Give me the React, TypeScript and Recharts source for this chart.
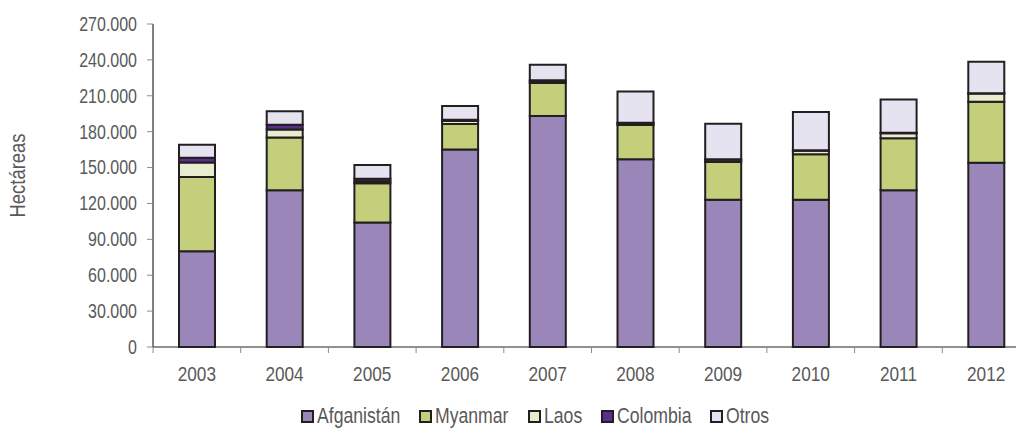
import React from 'react';
import { BarChart, Bar, XAxis, YAxis, Legend, Label } from 'recharts';

const years = ['2003', '2004', '2005', '2006', '2007', '2008', '2009', '2010', '2011', '2012'];
const afganistan = [80000, 131000, 104000, 165000, 193000, 157000, 123000, 123000, 131000, 154000];
const myanmar = [62200, 44200, 32800, 21500, 27700, 28500, 31700, 38100, 43600, 51000];
const laos = [12000, 6600, 1800, 2500, 1500, 1600, 1900, 3000, 4100, 6800];
const colombia = [4000, 3950, 1950, 1000, 700, 400, 360, 340, 340, 310];
const otros = [10800, 11300, 11500, 11500, 13000, 26000, 29600, 32000, 27800, 26400];
const yTicks = [0, 30000, 60000, 90000, 120000, 150000, 180000, 210000, 240000, 270000];

const series = [
  { key: 'Afganistán', values: afganistan, color: '#9a86b9' },
  { key: 'Myanmar', values: myanmar, color: '#c3cf7b' },
  { key: 'Laos', values: laos, color: '#e9edcf' },
  { key: 'Colombia', values: colombia, color: '#5b2d8e' },
  { key: 'Otros', values: otros, color: '#e5e3f0' },
];

const data = years.map((y, i) => {
  const row: Record<string, string | number> = { year: y };
  series.forEach((s) => {
    row[s.key] = s.values[i];
  });
  return row;
});

const FONT = '"Liberation Sans", Arial, sans-serif';
const SX = 0.82;
const TEXT = '#595959';
const STROKE = '#231f20';
const CHART_W = 1040;
const CHART_H = 428;
const MARGIN = { top: 24, right: 10, left: 0, bottom: 0 };
const Y_W = 153;
const HALF_BAND = (CHART_W - MARGIN.left - MARGIN.right - Y_W) / years.length / 2;
const LEGEND_FS = 21.5;

const fmt = (v: number) => String(v).replace(/\B(?=(\d{3})+(?!\d))/g, '.');

let ctx: CanvasRenderingContext2D | null = null;
const measure = (s: string, size: number) => {
  if (!ctx && typeof document !== 'undefined') {
    ctx = document.createElement('canvas').getContext('2d');
  }
  if (!ctx) return s.length * size * 0.5;
  ctx.font = `${size}px "Liberation Sans", Arial, sans-serif`;
  return ctx.measureText(s).width;
};

const XTick = (props: any) => {
  const { x, y, payload, index } = props;
  const half = payload && payload.offset ? payload.offset : HALF_BAND;
  return (
    <g>
      <line x1={x - half} x2={x - half} y1={y} y2={y + 6} stroke="#8c8c8c" />
      {index === years.length - 1 && (
        <line x1={x + half} x2={x + half} y1={y} y2={y + 6} stroke="#8c8c8c" />
      )}
      <text
        transform={`translate(${x},${y + 34}) scale(${SX},1)`}
        textAnchor="middle"
        fill={TEXT}
        fontSize={21}
        fontFamily={FONT}
      >
        {payload.value}
      </text>
    </g>
  );
};

const YTick = (props: any) => {
  const { x, y, payload } = props;
  return (
    <text
      transform={`translate(${x},${y}) scale(${SX},1)`}
      textAnchor="end"
      dy="0.355em"
      fill={TEXT}
      fontSize={19.5}
      fontFamily={FONT}
    >
      {fmt(payload.value)}
    </text>
  );
};

const LegendContent = () => (
  <div
    style={{
      height: 24,
      display: 'flex',
      alignItems: 'center',
      paddingLeft: 301,
      fontFamily: FONT,
      fontSize: LEGEND_FS,
      color: TEXT,
      whiteSpace: 'nowrap',
    }}
  >
    {series.map((s) => (
      <div key={s.key} style={{ display: 'flex', alignItems: 'center', marginRight: 19 }}>
        <span
          style={{
            display: 'inline-block',
            width: 9,
            height: 9,
            border: `2px solid ${STROKE}`,
            background: s.color,
            marginRight: 3,
          }}
        />
        <span style={{ display: 'inline-block', width: measure(s.key, LEGEND_FS) * SX, lineHeight: '24px' }}>
          <span style={{ display: 'inline-block', transform: `scaleX(${SX})`, transformOrigin: '0 50%' }}>{s.key}</span>
        </span>
      </div>
    ))}
  </div>
);

const YLabel = (props: any) => {
  const vb = props.viewBox || {};
  const cx = (vb.x || 0) + 17;
  const cy = (vb.y || 0) + (vb.height || 0) / 2 - 10;
  return (
    <text
      transform={`translate(${cx},${cy}) rotate(-90) scale(${SX},1)`}
      textAnchor="middle"
      dominantBaseline="central"
      fill={TEXT}
      fontSize={22.5}
      fontFamily={FONT}
    >
      Hectáreas
    </text>
  );
};

export default function App() {
  return (
    <div style={{ position: 'absolute', left: 0, top: 0, width: 1016, height: 428, overflow: 'hidden', background: '#fff' }}>
      <BarChart width={CHART_W} height={CHART_H} data={data} margin={MARGIN} barSize={36}>
        <XAxis
          dataKey="year"
          axisLine={{ stroke: '#222' }}
          tickLine={false}
          tickSize={0}
          tickMargin={0}
          height={57}
          tick={<XTick />}
          interval={0}
        />
        <YAxis
          width={Y_W}
          domain={[0, 270000]}
          ticks={yTicks}
          interval={0}
          axisLine={{ stroke: '#000' }}
          tickLine={{ stroke: '#8c8c8c' }}
          tickSize={6}
          tickMargin={10}
          tick={<YTick />}
        >
          <Label content={<YLabel />} />
        </YAxis>
        <Legend verticalAlign="bottom" content={<LegendContent />} wrapperStyle={{ left: 0, width: CHART_W }} />
        {series.map((s) => (
          <Bar
            key={s.key}
            dataKey={s.key}
            stackId="a"
            fill={s.color}
            stroke={STROKE}
            strokeWidth={2}
            isAnimationActive={false}
          />
        ))}
      </BarChart>
    </div>
  );
}
